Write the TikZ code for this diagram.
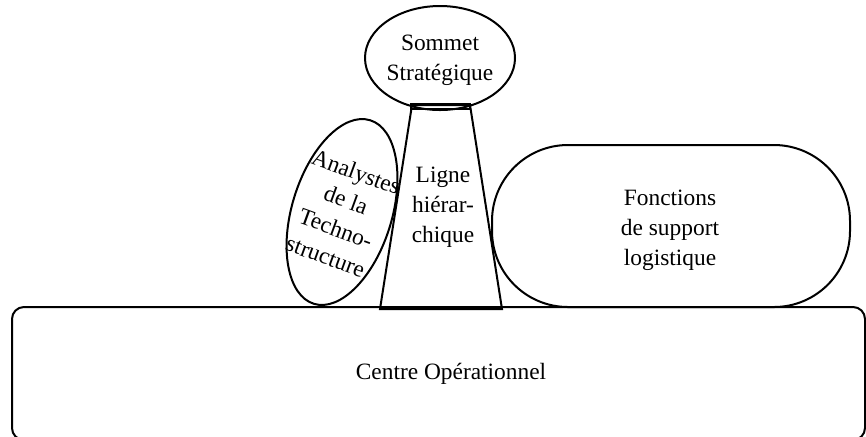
\documentclass[tikz,border=0pt]{standalone}
\usepackage{fontspec}
\setmainfont{Liberation Serif}
\tikzset{
  part/.style={line width=1pt},
  lbl/.style={align=center,font=\fontsize{11.7}{15}\selectfont,inner sep=0pt}
}

\begin{document}
\begin{tikzpicture}[x=0.5pt,y=-0.5pt]
\useasboundingbox (0,0) rectangle (866,436);
\draw [part,rounded corners=6pt] (12,307) rectangle (865,440);
\draw [part] (380,309) -- (412,105) -- (470,105) -- (502,309) -- cycle;
\draw [part] (411,104) rectangle (470,109);
\draw [part] (440,58) ellipse [x radius=75, y radius=52];
\draw [part,rotate around={-17:(342,212)}] (342,212) ellipse [x radius=50, y radius=96];
\draw [part,rounded corners=38pt] (492,145) rectangle (850,307);
\node [lbl] (sommet) at (440,60) {Sommet\\Stratégique};
\node [lbl] (ligne) at (443,207) {Ligne\\hiérar-\\chique};
\node [lbl,rotate=-20] (analystes) at (341,214) {Analystes\\de la\\Techno-\\structure};
\node [lbl] (support) at (670,230) {Fonctions\\de support\\logistique};
\node [lbl] (centre) at (451,374) {Centre Opérationnel};
\end{tikzpicture}
\end{document}
